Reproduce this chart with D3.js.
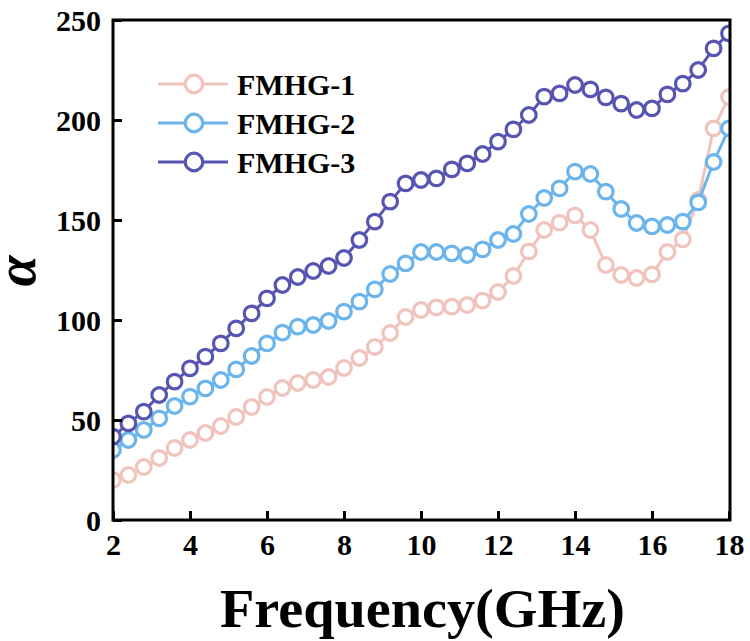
<!DOCTYPE html>
<html>
<head>
<meta charset="utf-8">
<script src="https://cdn.jsdelivr.net/npm/d3@7"></script>
<style>
  html, body { margin: 0; padding: 0; background: #fff; }
  svg text { font-family: "Liberation Serif", "Times New Roman", serif; font-weight: bold; }
</style>
</head>
<body>
<svg id="chart" width="750" height="641"></svg>
<script>
const frequency = d3.range(41).map(i => +(2 + i * 0.4).toFixed(1));
const seriesNames = ["FMHG-1", "FMHG-2", "FMHG-3"];
const seriesColors = ["#F0C4BC", "#6CB4EC", "#5656B2"];
const fmhg1 = [20, 22.5, 26.5, 31, 36, 40, 43.5, 47, 51.5, 56.5, 61.5, 66, 68.5, 70, 71.5, 76, 81, 86.5, 93.5, 101.5,
  105, 106.3, 106.7, 107.5, 109.7, 114, 122, 134.3, 145, 148.7, 152.3, 145, 127.5, 122.5, 121, 122.8, 134, 140.3, 160, 195.8, 211.5];
const fmhg2 = [35, 40, 45, 50.8, 57, 61.7, 65.8, 70, 75.3, 82, 88.3, 93.7, 96.7, 97.5, 99.5, 104.2, 109.2, 115.3, 123, 128.3,
  134, 134, 133.3, 132.5, 135.3, 140, 143, 153, 161, 165.8, 174.2, 173, 164.2, 155.5, 148.5, 146.8, 147.5, 149.2, 158.8, 179, 195.8];
const fmhg3 = [41.7, 48.3, 54.2, 62.5, 69.2, 75.8, 81.7, 88.3, 95.8, 103.3, 110.8, 117.5, 121.5, 124.5, 127, 131, 140, 149.2, 159.2, 168.3,
  170, 170.8, 175.3, 178.3, 183, 189.2, 195.3, 202.5, 211.7, 213.3, 217.5, 215.3, 211.3, 208.2, 205, 205.8, 212.8, 218.2, 225, 235.8, 243.3];
const xTicks = [2, 4, 6, 8, 10, 12, 14, 16, 18];
const yTicks = [0, 50, 100, 150, 200, 250];
const xLabel = "Frequency(GHz)";
const yLabel = "α";

const series = [fmhg1, fmhg2, fmhg3].map((vals, k) => ({
  name: seriesNames[k], color: seriesColors[k],
  points: vals.map((v, i) => ({ x: frequency[i], y: v }))
}));

const L = 113, R = 729, T = 20, B = 520;
const svg = d3.select("#chart");
const x = d3.scaleLinear().domain([2, 18]).range([L, R]);
const y = d3.scaleLinear().domain([0, 250]).range([B, T]);

svg.append("defs").append("clipPath").attr("id", "clip")
  .append("rect").attr("x", L).attr("y", T).attr("width", R - L + 1).attr("height", B - T);

const plot = svg.append("g").attr("clip-path", "url(#clip)");
const line = d3.line().x(d => x(d.x)).y(d => y(d.y));

series.forEach(s => {
  const g = plot.append("g");
  g.append("path").datum(s.points).attr("d", line)
    .attr("fill", "none").attr("stroke", s.color).attr("stroke-width", 3);
  g.selectAll("circle").data(s.points).join("circle")
    .attr("cx", d => x(d.x)).attr("cy", d => y(d.y)).attr("r", 7.3)
    .attr("fill", "#fff").attr("stroke", s.color).attr("stroke-width", 3.2);
});

// axes
const xAxis = svg.append("g").attr("transform", `translate(0,${B})`)
  .call(d3.axisBottom(x).tickValues(xTicks).tickSize(-9).tickPadding(14).tickFormat(d3.format("d")));
const yAxis = svg.append("g").attr("transform", `translate(${L},0)`)
  .call(d3.axisLeft(y).tickValues(yTicks).tickSize(-9).tickPadding(12).tickFormat(d3.format("d")));
[xAxis, yAxis].forEach(a => {
  a.select(".domain").remove();
  a.selectAll(".tick line").attr("stroke", "#000").attr("stroke-width", 3);
  a.selectAll(".tick text").attr("fill", "#000").style("font-size", "30px");
});
xAxis.selectAll(".tick text").attr("dy", "0.71em");
yAxis.selectAll(".tick text").attr("dy", "0.34em");

// frame
svg.append("rect").attr("x", L).attr("y", T).attr("width", R - L + 1).attr("height", B - T)
  .attr("fill", "none").attr("stroke", "#000").attr("stroke-width", 3);

// axis labels
svg.append("text").attr("x", 422.5).attr("y", 627).attr("text-anchor", "middle")
  .attr("textLength", 405).attr("lengthAdjust", "spacingAndGlyphs")
  .style("font-size", "54px").attr("fill", "#000").text(xLabel);
svg.append("text").attr("transform", `translate(35,271) rotate(-90)`).attr("text-anchor", "middle")
  .style("font-size", "56px").style("font-style", "italic").attr("fill", "#000").text(yLabel);

// legend
const leg = svg.append("g");
series.forEach((s, k) => {
  const cy = 84 + k * 39;
  leg.append("line").attr("x1", 158).attr("x2", 228).attr("y1", cy).attr("y2", cy)
    .attr("stroke", s.color).attr("stroke-width", 3);
  leg.append("circle").attr("cx", 194).attr("cy", cy).attr("r", 8.8)
    .attr("fill", "#fff").attr("stroke", s.color).attr("stroke-width", 3.2);
  leg.append("text").attr("x", 237).attr("y", cy + 10.5).style("font-size", "30px")
    .attr("fill", "#000").text(s.name);
});
</script>
</body>
</html>
